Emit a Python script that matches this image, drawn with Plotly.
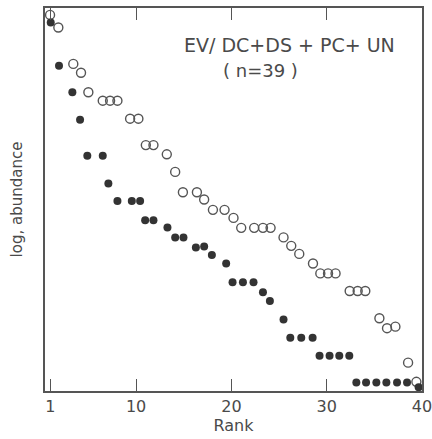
import plotly.graph_objects as go

# Rank positions and log abundance (arbitrary units, 0-10)
open_rank = [0.97, 1.84, 3.41, 4.22, 4.99, 6.50, 7.27, 8.04, 9.37, 10.24,
             11.02, 11.82, 13.22, 14.10, 14.91, 16.38, 17.14, 18.06, 19.28, 20.22,
             21.03, 22.39, 23.31, 24.11, 25.47, 26.28, 27.12, 28.56, 29.33, 30.14,
             30.93, 32.41, 33.25, 34.05, 35.53, 36.33, 37.21, 38.54, 39.41]
open_logab = [9.82, 9.49, 8.54, 8.31, 7.80, 7.58, 7.58, 7.58, 7.11, 7.11,
              6.42, 6.42, 6.18, 5.72, 5.19, 5.19, 5.00, 4.73, 4.73, 4.52,
              4.26, 4.26, 4.26, 4.26, 4.01, 3.79, 3.58, 3.33, 3.07, 3.07,
              3.07, 2.61, 2.61, 2.61, 1.90, 1.64, 1.68, 0.74, 0.24]

filled_rank = [1.04, 1.91, 3.31, 4.12, 4.88, 6.50, 7.09, 8.04, 9.55, 10.42,
               10.95, 11.82, 13.29, 14.10, 14.97, 16.27, 17.14, 17.95, 19.45, 20.12,
               21.21, 22.32, 23.31, 24.04, 25.47, 26.18, 27.33, 28.52, 29.25, 30.30,
               31.32, 32.37, 33.11, 34.13, 35.21, 36.26, 37.38, 38.43, 39.65]
filled_logab = [9.62, 8.49, 7.80, 7.08, 6.14, 6.14, 5.42, 4.96, 4.96, 4.96,
                4.46, 4.46, 4.27, 4.01, 4.01, 3.75, 3.77, 3.55, 3.33, 2.84,
                2.84, 2.84, 2.58, 2.35, 1.87, 1.39, 1.39, 1.39, 0.92, 0.92,
                0.92, 0.92, 0.22, 0.22, 0.22, 0.22, 0.22, 0.22, 0.10]

tick_vals = [1, 10, 20, 30, 40]
tick_text = ["1", "10", "20", "30", "40"]

ink = "#4a4a4a"
font_family = "DejaVu Sans"

fig = go.Figure()
fig.add_trace(go.Scatter(
    x=open_rank, y=open_logab, mode="markers", name="open",
    marker=dict(symbol="circle-open", size=9, color="#555555", line=dict(width=1.4)),
    cliponaxis=False,
))
fig.add_trace(go.Scatter(
    x=filled_rank, y=filled_logab, mode="markers", name="filled",
    marker=dict(symbol="circle", size=8, color="#333333", line=dict(width=0)),
    cliponaxis=False,
))

fig.add_annotation(x=0.364, y=0.903, xref="paper", yref="paper",
                   text="EV/ DC+DS + PC+ UN", showarrow=False,
                   xanchor="left", yanchor="middle",
                   font=dict(family=font_family, size=19, color=ink))
fig.add_annotation(x=0.468, y=0.836, xref="paper", yref="paper",
                   text="( n=39 )", showarrow=False,
                   xanchor="left", yanchor="middle",
                   font=dict(family=font_family, size=18, color=ink))

fig.update_layout(
    width=432, height=439,
    margin=dict(l=45, r=10, t=8, b=48, autoexpand=False),
    paper_bgcolor="white", plot_bgcolor="white",
    showlegend=False,
    font=dict(family=font_family, color=ink),
    xaxis=dict(
        range=[0.44, 40.0],
        tickvals=tick_vals, ticktext=tick_text,
        ticks="inside", ticklen=12, tickwidth=1.3, tickcolor="#555555",
        showline=True, linecolor="#555555", linewidth=1.5, mirror="ticks",
        showgrid=False, zeroline=False,
        automargin=False,
        ticklabeloverflow="allow",
        tickfont=dict(family=font_family, size=16, color=ink),
        title=dict(text="Rank", standoff=2,
                   font=dict(family=font_family, size=16, color=ink)),
    ),
    yaxis=dict(
        range=[0, 10],
        showticklabels=False, ticks="",
        showline=True, linecolor="#555555", linewidth=1.5, mirror=True,
        showgrid=False, zeroline=False,
        automargin=False,
        title=dict(text="log, abundance", standoff=17,
                   font=dict(family=font_family, size=15, color=ink)),
    ),
)

fig.write_html("out.html")
